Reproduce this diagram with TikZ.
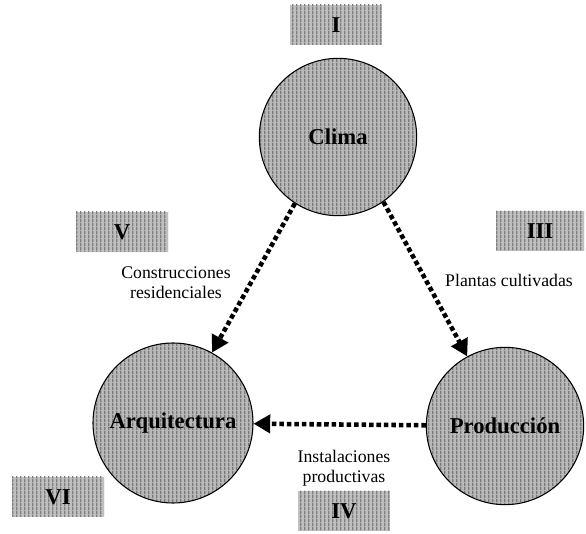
\documentclass[tikz,border=0pt]{standalone}
\usepackage{fontspec}
\setmainfont{Liberation Serif}
\usetikzlibrary{arrows.meta,patterns.meta}
\tikzdeclarepattern{
  name=vstripes,
  type=uncolored,
  bounding box={(0,0) and (3pt,3pt)},
  tile size={(3pt,3pt)},
  code={\fill (0,0) rectangle (1.3pt,3pt);}
}
\begin{document}
\begin{tikzpicture}[x=0.75pt,y=-0.75pt,
  zone/.style={circle, draw=black, line width=0.8pt, minimum size=118pt, inner sep=0pt,
    preaction={fill=gray!55}, pattern={vstripes}, pattern color=gray!105,
    font=\fontsize{17}{20}\selectfont\bfseries},
  tag/.style={rectangle, minimum width=69pt, minimum height=30pt, inner sep=0pt,
    preaction={fill=gray!50}, pattern={vstripes}, pattern color=gray!100,
    font=\fontsize{17}{20}\selectfont\bfseries},
  flow/.style={line width=3.4pt, dash pattern=on 3.4pt off 2.2pt,
    -{Triangle[length=12.5pt,width=13.5pt]}},
  note/.style={align=center, font=\fontsize{13.3}{15}\selectfont}
]
\useasboundingbox (0,0) rectangle (586,534);

\node[zone] (clima) at (338,137) {Clima};
\node[zone, minimum size=120pt] (arq) at (173,423) {Arquitectura};
\node[zone] (prod) at (505,426) {Producción};

\node[tag] (t1) at (336,25) {I};
\node[tag] (t5) at (122,232) {V};
\node[tag, minimum width=66pt] (t3) at (540,231) {III};
\node[tag] (t6) at (58,497) {VI};
\node[tag] (t4) at (344,511) {IV};

\draw[flow] (clima.-123) -- (arq);
\draw[flow] (clima.-55) -- (prod);
\draw[flow] (prod) -- (arq);

\node[note] (n1) at (176,283) {Construcciones\\residenciales};
\node[note] (n2) at (509,280) {Plantas cultivadas};
\node[note] (n3) at (344,468) {Instalaciones\\productivas};
\end{tikzpicture}
\end{document}
